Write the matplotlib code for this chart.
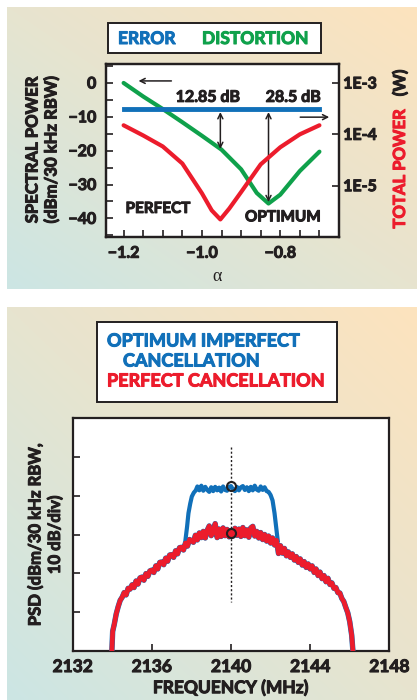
import matplotlib.pyplot as plt
import matplotlib.patheffects as pe
import numpy as np
from matplotlib.patches import Rectangle

# Colours
BLUE = '#1170b9'
GREEN = '#0fa14b'
RED = '#ec1c2c'
DARK = '#231f20'

FONT = ['Lato', 'DejaVu Sans']
plt.rcParams['font.family'] = FONT
plt.rcParams['font.weight'] = 'bold'

# ---- top panel data (alpha sweep) ----
alpha_green = [-1.2, -1.15, -1.10, -1.05, -1.0, -0.95, -0.9, -0.86, -0.83, -0.8, -0.75, -0.7]
distortion_db = [0.0, -4.0, -7.7, -11.6, -15.6, -19.7, -25.5, -32.5, -35.6, -33.0, -26.0, -20.3]

alpha_error = [-1.2, -0.7]
error_db = [-7.7, -7.7]

alpha_red = [-1.2, -1.15, -1.1, -1.05, -1.0, -0.975, -0.953, -0.93, -0.9, -0.85, -0.8, -0.75, -0.7]
total_power_w = [1.5e-4, 9.5e-5, 5.8e-5, 2.7e-5, 7.1e-6, 3.3e-6, 2.2e-6, 3.6e-6, 7.5e-6, 2.6e-5, 5.6e-5, 1.0e-4, 1.5e-4]

left_ticks = [0, -10, -20, -30, -40]
right_ticks = [1e-3, 1e-4, 1e-5]
right_labels = ['1E-3', '1E-4', '1E-5']
alpha_ticks = [-1.2, -1.0, -0.8]

# ---- bottom panel data (PSD, dB) ----
perfect_freq = [2133.98, 2134.02, 2134.1, 2134.2, 2134.3, 2134.4, 2134.5, 2134.6, 2134.7, 2134.8,
                2134.9, 2135.0, 2135.1, 2135.2, 2135.3, 2135.4, 2135.5, 2135.6, 2135.7, 2135.8,
                2135.9, 2136.0, 2136.1, 2136.2, 2136.3, 2136.4, 2136.5, 2136.6, 2136.7, 2136.8,
                2136.9, 2137.0, 2137.1, 2137.2, 2137.3, 2137.4, 2137.5, 2137.6, 2137.7, 2137.8,
                2137.9, 2138.0, 2138.1, 2138.2, 2138.3, 2138.4, 2138.5, 2138.6, 2138.7, 2138.8,
                2138.9, 2139.0, 2139.1, 2139.2, 2139.3, 2139.4, 2139.5, 2139.6, 2139.7, 2139.8,
                2139.9, 2140.0, 2140.1, 2140.2, 2140.3, 2140.4, 2140.5, 2140.6, 2140.7, 2140.8,
                2140.9, 2141.0, 2141.1, 2141.2, 2141.3, 2141.4, 2141.5, 2141.6, 2141.7, 2141.8,
                2141.9, 2142.0, 2142.1, 2142.2, 2142.3, 2142.4, 2142.5, 2142.6, 2142.7, 2142.8,
                2142.9, 2143.0, 2143.1, 2143.2, 2143.3, 2143.4, 2143.5, 2143.6, 2143.7, 2143.8,
                2143.9, 2144.0, 2144.1, 2144.2, 2144.3, 2144.4, 2144.5, 2144.6, 2144.7, 2144.8,
                2144.9, 2145.0, 2145.1, 2145.2, 2145.3, 2145.4, 2145.5, 2145.6, 2145.7, 2145.8,
                2145.9, 2146.0, 2146.1, 2146.16]
perfect_psd = [-110.0, -105.0, -103.2, -100.5, -98.6, -97.0, -96.2, -95.0, -95.6, -93.9,
               -94.1, -93.0, -93.7, -92.0, -92.8, -91.2, -91.0, -91.8, -90.1, -90.8,
               -89.4, -89.2, -89.8, -88.1, -88.9, -87.2, -87.1, -87.8, -86.1, -86.9,
               -85.3, -85.2, -85.9, -84.2, -85.0, -83.4, -83.3, -84.0, -82.2, -83.0,
               -81.3, -81.6, -82.0, -80.2, -81.4, -79.6, -80.8, -79.2, -80.9, -78.9,
               -77.8, -80.3, -79.2, -77.2, -80.8, -78.6, -80.5, -78.3, -80.3, -78.7,
               -80.6, -79.0, -80.4, -78.4, -80.2, -78.6, -80.5, -78.2, -80.3, -78.8,
               -80.7, -78.3, -77.9, -80.4, -79.2, -80.9, -79.5, -81.3, -80.0, -81.7,
               -80.4, -82.2, -80.9, -82.7, -81.5, -84.9, -82.9, -84.8, -83.6, -85.5,
               -84.5, -85.9, -85.0, -86.6, -85.7, -87.2, -86.3, -87.9, -87.0, -88.5,
               -87.6, -88.9, -88.1, -89.8, -88.9, -90.6, -89.7, -91.4, -90.6, -92.2,
               -91.3, -92.9, -92.5, -93.9, -93.7, -95.0, -95.1, -96.5, -97.3, -98.8,
               -100.2, -102.5, -106.0, -110.0]

optimum_freq = [2137.68, 2137.78, 2137.85, 2137.94, 2138.02, 2138.12, 2138.22, 2138.3, 2138.4, 2138.5,
                2138.6, 2138.7, 2138.8, 2138.9, 2139.0, 2139.1, 2139.2, 2139.3, 2139.4, 2139.5,
                2139.6, 2139.7, 2139.8, 2139.9, 2140.0, 2140.1, 2140.2, 2140.3, 2140.4, 2140.5,
                2140.6, 2140.7, 2140.8, 2140.9, 2141.0, 2141.1, 2141.2, 2141.3, 2141.4, 2141.5,
                2141.6, 2141.7, 2141.8, 2141.9, 2142.0, 2142.1, 2142.2, 2142.28, 2142.36]
optimum_psd = [-82.2, -78.0, -74.5, -72.0, -70.2, -69.2, -68.6, -67.6, -68.6, -67.4,
               -68.7, -67.7, -68.5, -69.0, -67.8, -68.8, -67.7, -68.6, -67.9, -68.9,
               -67.6, -68.5, -68.7, -67.7, -67.5, -68.4, -68.8, -67.7, -68.6, -67.8,
               -67.5, -68.5, -67.8, -68.8, -67.7, -68.6, -67.4, -68.4, -68.7, -67.6,
               -68.5, -67.8, -68.8, -69.0, -69.8, -71.2, -74.5, -78.0, -81.5]

marker_freq = [2140.0, 2140.0]
marker_psd = [-67.5, -79.6]
center_freq = 2140.0
center_span = [-57.3, -97.3]

freq_ticks = [2132, 2136, 2140, 2144, 2148]
psd_ticks = [-100, -90, -80, -70, -60]

W, H = 417, 700
fig = plt.figure(figsize=(W / 100, H / 100), dpi=100)


def rect(x0, y0, x1, y1):
    # pixel box (top-left origin) -> figure fraction rect
    return [x0 / W, 1 - y1 / H, (x1 - x0) / W, (y1 - y0) / H]


def fx(px):
    return px / W


def fy(py):
    return 1 - py / H


def heavy(txt, w=0.75):
    # thicken Lato Bold strokes so it reads like the heavy print face
    txt.set_path_effects([pe.withStroke(linewidth=w, foreground=txt.get_color())])
    return txt


# gradient backgrounds (teal bottom-left -> beige -> peach top-right)
teal = np.array([204, 230, 228]) / 255
beige = np.array([231, 228, 207]) / 255
peach = np.array([253, 227, 190]) / 255
gx, gy = np.meshgrid(np.linspace(0, 1, 100), np.linspace(0, 1, 100))
t = (gx + (1 - gy)) / 2
img = np.where(t[..., None] < 0.5,
               teal + (beige - teal) * (t[..., None] / 0.5),
               beige + (peach - beige) * ((t[..., None] - 0.5) / 0.5))
for box in [rect(7, 7, 417, 289), rect(7, 307, 417, 700)]:
    bg = fig.add_axes(box, zorder=0)
    bg.imshow(img, aspect='auto', extent=[0, 1, 1, 0], interpolation='bilinear')
    bg.axis('off')

# ================= top panel =================
ax = fig.add_axes(rect(106, 64, 339, 237), zorder=2)
ax.set_facecolor('white')
ax.plot(alpha_green, distortion_db, color=GREEN, lw=3, solid_capstyle='round', zorder=3)
ax.plot(alpha_error, error_db, color=BLUE, lw=3.5, zorder=4)
ax.set_xlim(-1.245, -0.65)
ax.set_ylim(-45.5, 5.6)
ax.set_xticks(np.arange(-1.2, -0.649, 0.05), minor=True)
ax.set_xticks(alpha_ticks)
ax.set_xticklabels(['\u22121.2', '\u22121.0', '\u22120.8'])
ax.set_yticks(np.arange(-45, 5.1, 5), minor=True)
ax.set_yticks(left_ticks)
ax.set_yticklabels(['0', '\u221210', '\u221220', '\u221230', '\u221240'])
ax.tick_params(which='both', direction='in', length=5, width=1.2, color=DARK,
               labelsize=11.5, labelcolor=DARK)
ax.tick_params(axis='y', which='both', pad=7)
ax.tick_params(axis='x', which='both', pad=7)
for s in ax.spines.values():
    s.set_linewidth(1.6)
    s.set_color(DARK)

ax2 = ax.twinx()
ax2.plot(alpha_red, total_power_w, color=RED, lw=3, solid_capstyle='round', zorder=3)
ax2.set_yscale('log')
ax2.set_ylim(10 ** -6.0, 10 ** -2.63)
ax2.set_yticks(right_ticks)
ax2.set_yticklabels(right_labels)
ax2.yaxis.set_minor_locator(plt.NullLocator())
ax2.tick_params(axis='y', direction='in', length=5, width=1.2, color=DARK,
                labelsize=11.5, labelcolor=DARK, pad=3)
for s in ax2.spines.values():
    s.set_linewidth(1.6)
    s.set_color(DARK)

# dB difference arrows
arrow_kw = dict(arrowstyle='<->', lw=1.1, color=DARK, shrinkA=0, shrinkB=0,
                mutation_scale=9)
ax.annotate('', xy=(-0.953, -8.6), xytext=(-0.953, -19.5), arrowprops=arrow_kw, zorder=5)
ax.annotate('', xy=(-0.83, -8.6), xytext=(-0.83, -35.2), arrowprops=arrow_kw, zorder=5)
ax.annotate('', xy=(-1.162, 0.6), xytext=(-1.078, 0.6),
            arrowprops=dict(arrowstyle='->', lw=1.1, color=DARK, shrinkA=0, shrinkB=0,
                            mutation_scale=9))
ax.annotate('', xy=(-0.675, -10.1), xytext=(-0.749, -10.1),
            arrowprops=dict(arrowstyle='->', lw=1.1, color=DARK, shrinkA=0, shrinkB=0,
                            mutation_scale=9))
heavy(ax.text(-0.985, -4.4, '12.85 dB', ha='center', va='center', fontsize=11.5, color=DARK))
heavy(ax.text(-0.767, -4.4, '28.5 dB', ha='center', va='center', fontsize=11.5, color=DARK))
heavy(ax.text(-1.195, -37.2, 'PERFECT', ha='left', va='center', fontsize=11, color=DARK))
heavy(ax.text(-0.89, -39.7, 'OPTIMUM', ha='left', va='center', fontsize=11, color=DARK))

heavy(fig.text(fx(42), fy(150), 'SPECTRAL POWER\n(dBm/30 kHz RBW)', rotation=90,
               ha='center', va='center', fontsize=12, color=DARK, linespacing=1.2))
heavy(fig.text(fx(400), fy(169), 'TOTAL POWER', rotation=90, ha='center', va='center',
               fontsize=12, color=RED))
heavy(fig.text(fx(400), fy(83), '(W)', rotation=90, ha='center', va='center',
               fontsize=12, color=DARK))
fig.text(fx(217), fy(276), '\u03b1', ha='center', va='center', fontsize=13,
         family='Liberation Serif', fontweight='normal', color=DARK)

# legend box (top)
fig.patches.append(Rectangle((fx(108), fy(53)), (321 - 108) / W, 30 / H,
                             transform=fig.transFigure, facecolor='white',
                             edgecolor=DARK, lw=1.4, zorder=1))
heavy(fig.text(fx(118), fy(39), 'ERROR', ha='left', va='center', fontsize=12.5, color=BLUE, zorder=3))
heavy(fig.text(fx(202), fy(39), 'DISTORTION', ha='left', va='center', fontsize=12.5, color=GREEN, zorder=3))

# ================= bottom panel =================
bx = fig.add_axes(rect(72.7, 418.3, 389.3, 650.7), zorder=2)
bx.set_facecolor('white')
bx.plot([center_freq, center_freq], center_span, color=DARK, lw=1, ls=(0, (1.5, 1.5)), zorder=2)
bx.plot(perfect_freq, perfect_psd, color=BLUE, lw=3.9, zorder=3)
bx.plot(optimum_freq, optimum_psd, color=BLUE, lw=3, zorder=3)
bx.plot(perfect_freq, perfect_psd, color=RED, lw=3.4, zorder=4)
bx.plot(marker_freq, marker_psd, ls='none', marker='o', ms=6.5, mfc='none',
        mec=DARK, mew=1.5, zorder=5)
bx.set_xlim(2132, 2148)
bx.set_ylim(-110, -50)
bx.set_xticks(freq_ticks)
bx.set_yticks(psd_ticks)
bx.set_yticklabels([])
bx.tick_params(direction='in', length=5, width=1.2, color=DARK, labelsize=12.5,
               labelcolor=DARK, pad=6)
for s in bx.spines.values():
    s.set_linewidth(1.6)
    s.set_color(DARK)
heavy(fig.text(fx(230.7), fy(688), 'FREQUENCY (MHz)', ha='center', va='center',
               fontsize=12.5, color=DARK))
heavy(fig.text(fx(45), fy(535), 'PSD (dBm/30 kHz RBW,\n10 dB/div)', rotation=90,
               ha='center', va='center', fontsize=12, color=DARK, linespacing=1.25))

# legend box (bottom)
fig.patches.append(Rectangle((fx(97.3), fy(402.3)), (336.7 - 97.3) / W, 80 / H,
                             transform=fig.transFigure, facecolor='white',
                             edgecolor=DARK, lw=1.4, zorder=1))
heavy(fig.text(fx(107), fy(341), 'OPTIMUM IMPERFECT', ha='left', va='center', fontsize=13, color=BLUE))
heavy(fig.text(fx(123), fy(361), 'CANCELLATION', ha='left', va='center', fontsize=13, color=BLUE))
heavy(fig.text(fx(107), fy(381), 'PERFECT CANCELLATION', ha='left', va='center', fontsize=13, color=RED))

for a in (ax, ax2, bx):
    for lab in a.get_xticklabels() + a.get_yticklabels():
        heavy(lab)

fig.savefig('out.png', dpi=100)
